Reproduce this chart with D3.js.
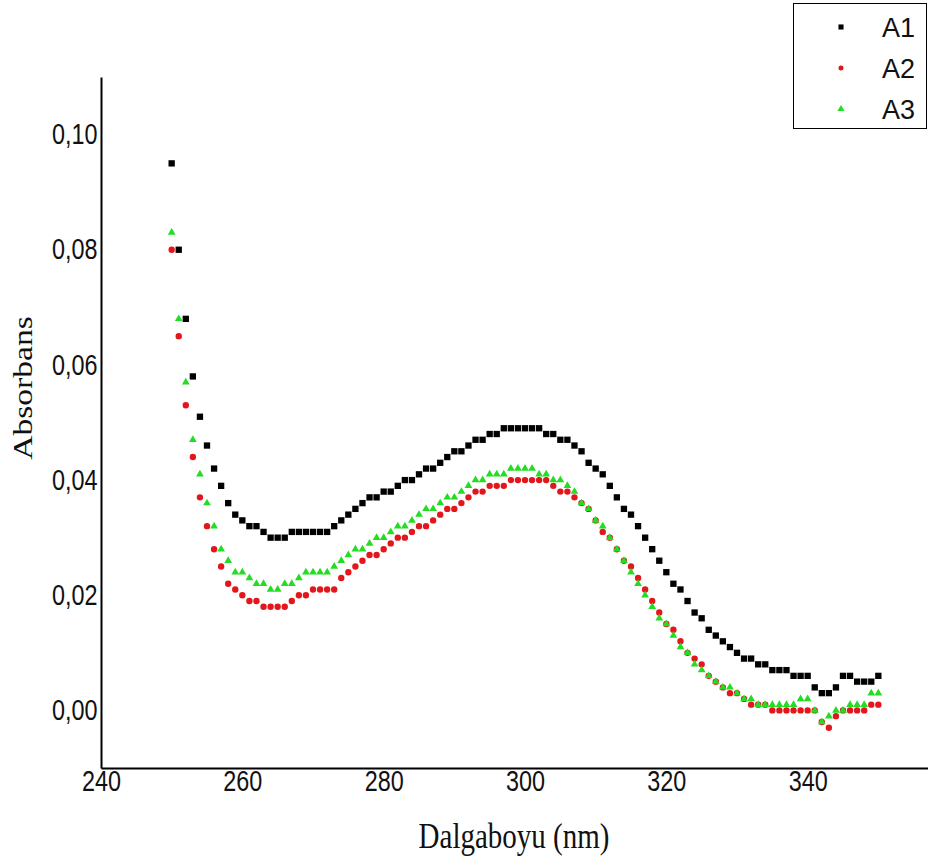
<!DOCTYPE html>
<html>
<head>
<meta charset="utf-8">
<script src="https://cdn.jsdelivr.net/npm/d3@7"></script>
<style>
  body { margin: 0; background: #fff; }
  svg { display: block; }
</style>
</head>
<body>
<div id="chart"></div>
<script>
// wavelength grid, 1 nm steps
const wavelengths = d3.range(250, 351);

const a1 = [
  0.095, 0.080, 0.068, 0.058, 0.051, 0.046, 0.042, 0.039, 0.036, 0.034,
  0.033, 0.032, 0.032, 0.031, 0.030, 0.030, 0.030, 0.031, 0.031, 0.031,
  0.031, 0.031, 0.031, 0.032, 0.033, 0.034, 0.035, 0.036, 0.037, 0.037,
  0.038, 0.038, 0.039, 0.040, 0.040, 0.041, 0.042, 0.042, 0.043, 0.044,
  0.045, 0.045, 0.046, 0.047, 0.047, 0.048, 0.048, 0.049, 0.049, 0.049,
  0.049, 0.049, 0.049, 0.048, 0.048, 0.047, 0.047, 0.046, 0.045, 0.043,
  0.042, 0.041, 0.039, 0.037, 0.035, 0.034, 0.032, 0.030, 0.028, 0.026,
  0.024, 0.022, 0.021, 0.019, 0.017, 0.016, 0.014, 0.013, 0.012, 0.011,
  0.010, 0.009, 0.009, 0.008, 0.008, 0.007, 0.007, 0.007, 0.006, 0.006,
  0.006, 0.004, 0.003, 0.003, 0.004, 0.006, 0.006, 0.005, 0.005, 0.005,
  0.006
];

const a2 = [
  0.080, 0.065, 0.053, 0.044, 0.037, 0.032, 0.028, 0.025, 0.022, 0.021,
  0.020, 0.019, 0.019, 0.018, 0.018, 0.018, 0.018, 0.019, 0.020, 0.020,
  0.021, 0.021, 0.021, 0.021, 0.023, 0.024, 0.025, 0.026, 0.027, 0.027,
  0.028, 0.029, 0.030, 0.030, 0.031, 0.032, 0.032, 0.033, 0.034, 0.035,
  0.035, 0.036, 0.037, 0.038, 0.038, 0.039, 0.039, 0.039, 0.040, 0.040,
  0.040, 0.040, 0.040, 0.040, 0.039, 0.038, 0.038, 0.037, 0.036, 0.035,
  0.033, 0.031, 0.030, 0.028, 0.026, 0.025, 0.023, 0.021, 0.019, 0.017,
  0.015, 0.014, 0.012, 0.010, 0.009, 0.008, 0.006, 0.005, 0.004, 0.003,
  0.003, 0.002, 0.001, 0.001, 0.001, 0.000, 0.000, 0.000, 0.000, 0.000,
  0.000, 0.000, -0.002, -0.003, -0.001, 0.000, 0.000, 0.000, 0.000, 0.001,
  0.001
];

const a3 = [
  0.083, 0.068, 0.057, 0.047, 0.041, 0.036, 0.032, 0.028, 0.026, 0.024,
  0.024, 0.023, 0.022, 0.022, 0.021, 0.021, 0.022, 0.022, 0.023, 0.024,
  0.024, 0.024, 0.024, 0.025, 0.026, 0.027, 0.028, 0.028, 0.029, 0.030,
  0.030, 0.031, 0.032, 0.032, 0.033, 0.034, 0.035, 0.035, 0.036, 0.037,
  0.037, 0.038, 0.039, 0.040, 0.040, 0.041, 0.041, 0.041, 0.042, 0.042,
  0.042, 0.042, 0.041, 0.041, 0.040, 0.040, 0.039, 0.038, 0.036, 0.035,
  0.033, 0.032, 0.030, 0.028, 0.026, 0.024, 0.022, 0.020, 0.018, 0.016,
  0.015, 0.013, 0.011, 0.010, 0.008, 0.007, 0.006, 0.005, 0.004, 0.004,
  0.003, 0.002, 0.002, 0.001, 0.001, 0.001, 0.001, 0.001, 0.001, 0.002,
  0.002, 0.000, -0.002, -0.001, 0.000, 0.000, 0.001, 0.001, 0.001, 0.003,
  0.003
];

const seriesNames = ["A1", "A2", "A3"];
const xTicks = [240, 260, 280, 300, 320, 340];
const yTicks = [0.00, 0.02, 0.04, 0.06, 0.08, 0.10];

const width = 928;
const height = 861;
const margin = { top: 77, right: -21, bottom: 93, left: 101 };

const series = [
  { name: seriesNames[0], values: a1, color: "#000000", symbol: d3.symbolSquare, size: 40, legendSize: 26 },
  { name: seriesNames[1], values: a2, color: "#e3171b", symbol: d3.symbolCircle, size: 32, legendSize: 20 },
  { name: seriesNames[2], values: a3, color: "#22dd22", symbol: d3.symbolTriangle, size: 26, legendSize: 22 }
];

const svg = d3
  .select("#chart")
  .append("svg")
  .attr("width", width)
  .attr("height", height)
  .style("overflow", "hidden");

const x = d3
  .scaleLinear()
  .domain([240, 360])
  .range([margin.left, width - margin.right]);

const y = d3
  .scaleLinear()
  .domain([-0.01, 0.11])
  .range([height - margin.bottom, margin.top]);

// X axis
const xAxis = svg
  .append("g")
  .attr("transform", `translate(0,${height - margin.bottom})`)
  .call(d3.axisBottom(x).tickValues(xTicks).tickSize(0).tickPadding(2));

xAxis.select(".domain").attr("stroke", "#000").attr("stroke-width", 2);
xAxis
  .selectAll("text")
  .attr("fill", "#111")
  .style("font-family", "'Liberation Sans', Arial, sans-serif")
  .style("font-size", "26px")
  .attr("transform", "scale(0.9,1.1)");

// Y axis
const yAxis = svg
  .append("g")
  .attr("transform", `translate(${margin.left},0)`)
  .call(
    d3.axisLeft(y)
      .tickValues(yTicks)
      .tickSize(0)
      .tickPadding(4)
      .tickFormat((d) => d3.format(".2f")(d).replace(".", ","))
  );

yAxis.select(".domain").attr("stroke", "#000").attr("stroke-width", 2);
yAxis
  .selectAll("text")
  .attr("fill", "#111")
  .style("font-family", "'Liberation Sans', Arial, sans-serif")
  .style("font-size", "26px")
  .attr("transform", "scale(0.9,1.1)");

// Points
series.forEach((s) => {
  svg
    .append("g")
    .selectAll("path")
    .data(s.values)
    .enter()
    .append("path")
    .attr("transform", (d, i) => `translate(${x(wavelengths[i])},${y(d)})`)
    .attr("d", d3.symbol().type(s.symbol).size(s.size))
    .attr("fill", s.color);
});

// Axis titles
svg
  .append("text")
  .attr("text-anchor", "middle")
  .attr("transform", "translate(514,848) scale(1,1.2)")
  .style("font-family", "'Liberation Serif', 'Times New Roman', serif")
  .style("font-size", "29px")
  .attr("fill", "#111")
  .text("Dalgaboyu (nm)");

svg
  .append("text")
  .attr("text-anchor", "middle")
  .attr("transform", "translate(32,388) rotate(-90) scale(1.2,1)")
  .style("font-family", "'Liberation Serif', 'Times New Roman', serif")
  .style("font-size", "28px")
  .attr("fill", "#111")
  .text("Absorbans");

// Legend
const legend = svg.append("g");

legend
  .append("rect")
  .attr("x", 793.5)
  .attr("y", 3.5)
  .attr("width", 133)
  .attr("height", 125)
  .attr("fill", "#fff")
  .attr("stroke", "#000")
  .attr("stroke-width", 1);

series.forEach((s, i) => {
  const ly = 27 + i * 41;
  legend
    .append("path")
    .attr("transform", `translate(841,${ly})`)
    .attr("d", d3.symbol().type(s.symbol).size(s.legendSize))
    .attr("fill", s.color);
  legend
    .append("text")
    .attr("x", 882)
    .attr("y", ly)
    .attr("dy", "0.36em")
    .style("font-family", "'Liberation Sans', Arial, sans-serif")
    .style("font-size", "27px")
    .attr("fill", "#111")
    .text(s.name);
});
</script>
</body>
</html>
